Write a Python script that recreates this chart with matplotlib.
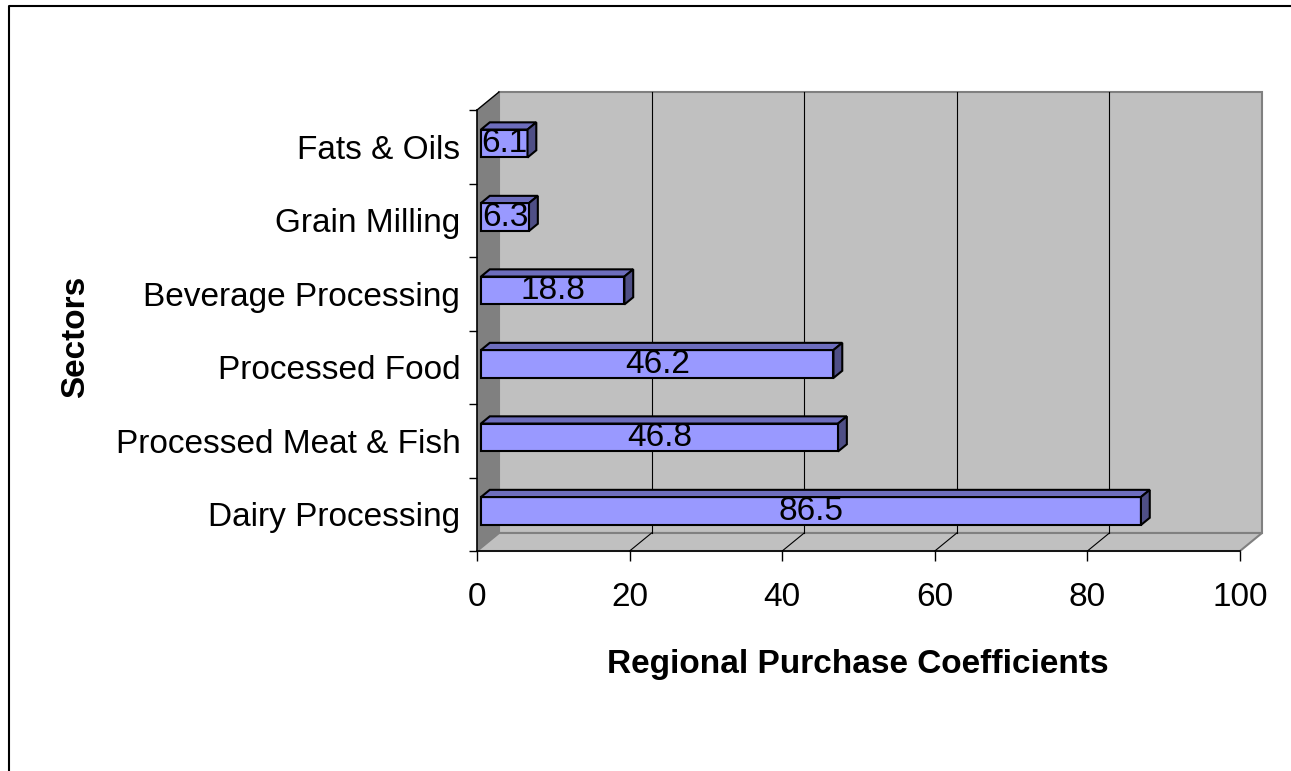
import numpy as np
import matplotlib
matplotlib.use("Agg")
import matplotlib.pyplot as plt
from matplotlib.patches import Polygon
from matplotlib.lines import Line2D

plt.rcParams['font.family'] = ['Liberation Sans', 'DejaVu Sans']

# Regional purchase coefficients by sector (bottom to top)
sectors = ["Dairy Processing", "Processed Meat & Fish", "Processed Food",
           "Beverage Processing", "Grain Milling", "Fats & Oils"]
rpc = [86.5, 46.8, 46.2, 18.8, 6.3, 6.1]
xticks = [0, 20, 40, 60, 80, 100]

W, H = 1291, 771
fig = plt.figure(figsize=(W / 100, H / 100), dpi=100)
fig.patch.set_facecolor('white')

# front plane of the 3-D box, in pixels
x0, x1, ytop, ybot = 477, 1240, 110, 551
ax = fig.add_axes([x0 / W, 1 - ybot / H, (x1 - x0) / W, (ybot - ytop) / H])
ax.set_xlim(0, 100)
ax.set_ylim(-0.5, len(sectors) - 0.5)
ax.patch.set_visible(False)

# depth of the box in pixels -> data units
DX, DY = 22, 18
sx = (x1 - x0) / 100.0
sy = (ybot - ytop) / len(sectors)
ox, oy = DX / sx, DY / sy


def pt(x, y, d):
    return (x + d * ox, y + d * oy)


def face(points, color, ec, lw, z):
    ax.add_patch(Polygon(points, closed=True, facecolor=color, edgecolor=ec,
                         linewidth=lw, zorder=z, clip_on=False, joinstyle='miter'))


ylo, yhi = -0.5, len(sectors) - 0.5
wall = '#c0c0c0'
side = '#808080'

# back wall, floor and left wall
face([pt(0, ylo, 1), pt(100, ylo, 1), pt(100, yhi, 1), pt(0, yhi, 1)], wall, side, 1.5, 1)
face([pt(0, ylo, 0), pt(100, ylo, 0), pt(100, ylo, 1), pt(0, ylo, 1)], wall, side, 1.5, 1)
face([pt(0, ylo, 0), pt(0, ylo, 1), pt(0, yhi, 1), pt(0, yhi, 0)], side, 'none', 0, 1.2)
ax.add_line(Line2D(*zip(pt(0, yhi, 0), pt(0, yhi, 1)), color='black', lw=1, zorder=1.5, clip_on=False))

# gridlines on the back wall and on the floor
for v in xticks[1:-1]:
    ax.add_line(Line2D(*zip(pt(v, ylo, 1), pt(v, yhi, 1)), color='black', lw=0.8, zorder=1.5, clip_on=False))
    ax.add_line(Line2D(*zip(pt(v, ylo, 0), pt(v, ylo, 1)), color='black', lw=0.8, zorder=1.5, clip_on=False))

# 3-D bars
h = 0.19
d0, d1 = 0.18, 0.58
for i, v in enumerate(rpc):
    lo, hi = i - h, i + h
    face([pt(0, lo, d0), pt(v, lo, d0), pt(v, hi, d0), pt(0, hi, d0)], '#9999ff', 'black', 1.5, 3)
    face([pt(0, hi, d0), pt(v, hi, d0), pt(v, hi, d1), pt(0, hi, d1)], '#6d6dbd', 'black', 1.5, 3)
    face([pt(v, lo, d0), pt(v, lo, d1), pt(v, hi, d1), pt(v, hi, d0)], '#4f4f86', 'black', 1.5, 3)
    cx, cy = pt(v / 2, i, d0)
    ax.text(cx, cy, f"{v:.1f}", ha='center', va='center', fontsize=24, zorder=4)

# axes: front edges only
for s in ['top', 'right']:
    ax.spines[s].set_visible(False)
for s in ['left', 'bottom']:
    ax.spines[s].set_color('black')
    ax.spines[s].set_linewidth(1.2)
    ax.spines[s].set_zorder(2)

ax.set_xticks(xticks)
ax.tick_params(axis='x', length=7, width=1, pad=15, labelsize=24)
ax.set_yticks(range(len(sectors)))
ax.set_yticklabels(sectors)
ax.set_yticks(np.arange(-0.5, len(sectors), 1.0), minor=True)
ax.tick_params(axis='y', which='major', length=0, pad=12, labelsize=24)
ax.tick_params(axis='y', which='minor', length=6, width=1)

fig.text(858 / W, 1 - 665 / H, "Regional Purchase Coefficients", ha='center', va='center',
         fontsize=24, fontweight='bold')
fig.text(76 / W, 1 - 337 / H, "Sectors", ha='center', va='center', rotation=90,
         fontsize=24, fontweight='bold')

# chart area border (left and top edges)
fig.add_artist(Line2D([9 / W, 9 / W, 1.0], [0.0, 1 - 6 / H, 1 - 6 / H], color='black', lw=1.5,
                      transform=fig.transFigure))

fig.savefig("out.png", dpi=100)
